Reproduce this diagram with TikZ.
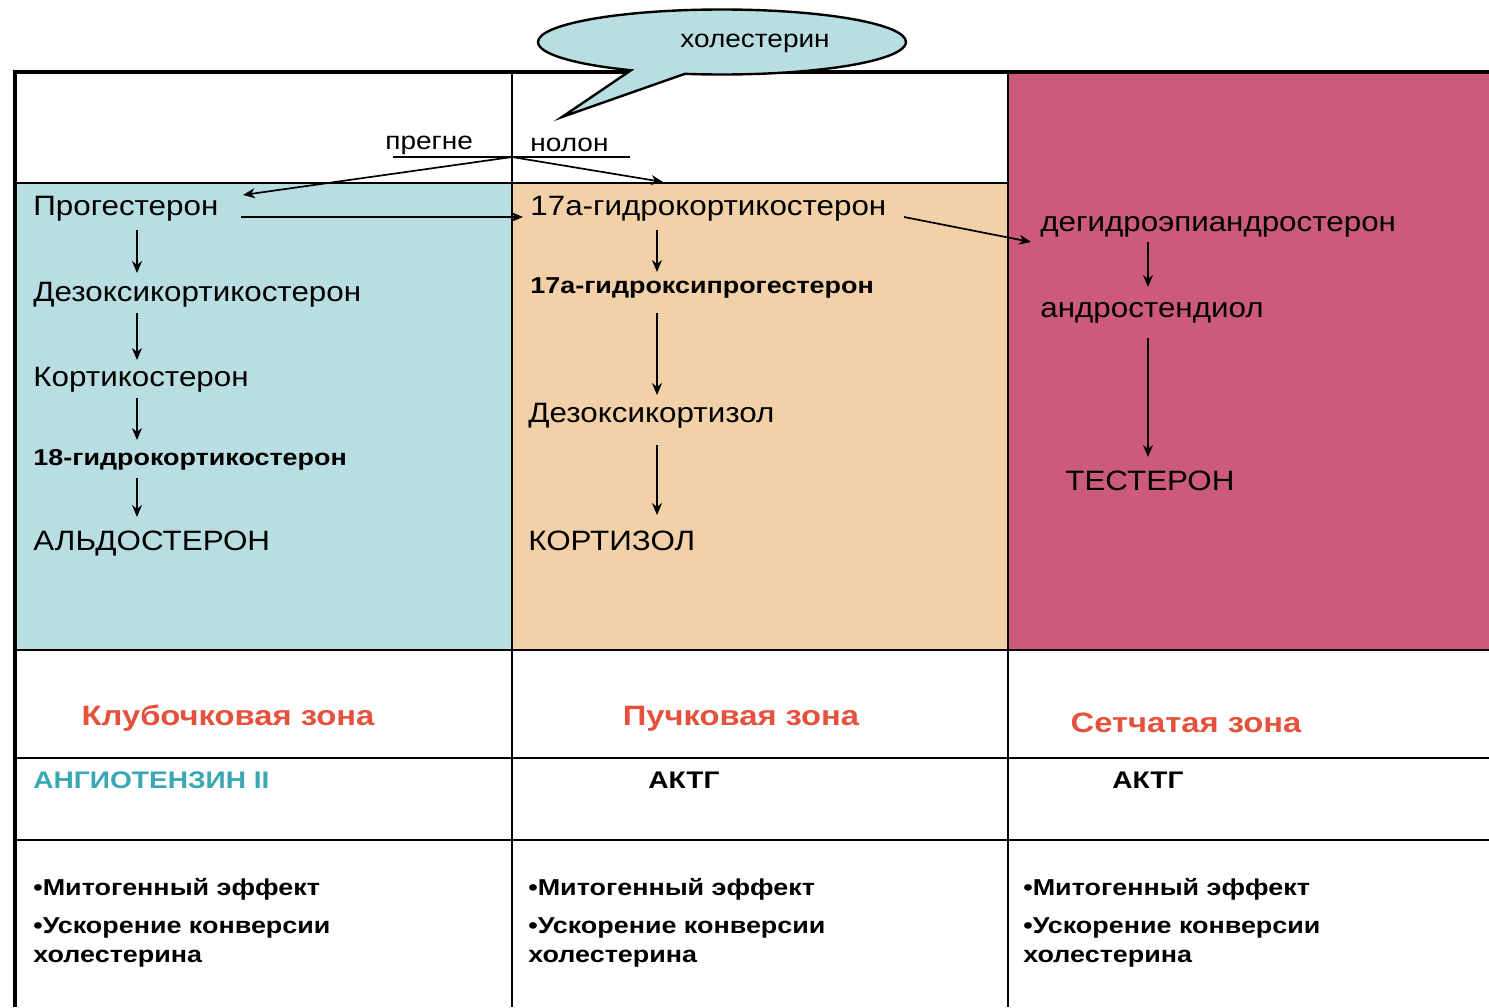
\documentclass[tikz,border=0pt]{standalone}
\usepackage{fontspec}
\setmainfont{Liberation Sans}[FakeStretch=1.12]
\newfontfamily\boldwide{Liberation Sans Bold}[FakeStretch=1.17]
\usetikzlibrary{arrows.meta,shapes.callouts,calc}

\definecolor{glomblue}{RGB}{185,222,226}
\definecolor{fascpeach}{RGB}{242,209,169}
\definecolor{retpink}{RGB}{204,91,123}
\definecolor{zonered}{RGB}{228,82,62}
\definecolor{angteal}{RGB}{58,168,178}

\begin{document}
\begin{tikzpicture}[x=0.5pt,y=-0.5pt,
  met/.style={anchor=base west, inner sep=2pt, font=\fontsize{14}{17}\selectfont},
  metb/.style={anchor=base west, inner sep=2pt, font=\fontsize{11.5}{14}\boldwide},
  lbl/.style={anchor=base west, inner sep=2pt, font=\fontsize{12.5}{14}\selectfont},
  zone/.style={anchor=base, inner sep=2pt, text=zonered, font=\fontsize{14}{17}\boldwide},
  reg/.style={inner sep=2pt, font=\fontsize{12}{14}\boldwide},
  bul/.style={anchor=base west, inner sep=2pt, font=\fontsize{11.5}{14}\boldwide},
  arr/.style={-{Stealth[length=6pt,width=5pt]}, line width=0.85pt},
  grid/.style={line width=1.2pt},
  frame/.style={line width=2.3pt},
]
\useasboundingbox (0,0) rectangle (1489,1007);
\fill[white] (0,0) rectangle (1489,1007);

% zone backgrounds
\fill[glomblue]  (15,183)  rectangle (512,650);
\fill[fascpeach] (512,183) rectangle (1008,650);
\fill[retpink]   (1008,72) rectangle (1489,650);

% table rules
\draw[grid] (15,183) -- (1008,183);
\draw[grid] (15,650) -- (1489,650);
\draw[grid] (15,758) -- (1489,758);
\draw[grid] (15,840) -- (1489,840);
\draw[grid] (512,72) -- (512,1007);
\draw[grid] (1008,72) -- (1008,1007);
\draw[frame] (1489,72) -- (15,72) -- (15,1007);

% cholesterol callout
\node[ellipse callout, draw, fill=glomblue, line width=1.2pt,
      minimum width=184pt, minimum height=32.5pt, inner sep=0pt,
      callout pointer arc=18, callout absolute pointer={(562,117)}] (cloud) at (722,42) {};
\node[lbl] (chol) at (676,47) {холестерин};

% pregnenolone, split across the first two columns
\node[lbl] (pregne) at (381,149) {прегне};
\node[lbl] (nolon)  at (526,151) {нолон};
\coordinate (split) at (512,157);
\coordinate (ulL) at (393,157);
\coordinate (ulR) at (630,157);
\draw[line width=0.9pt] (ulL) -- (ulR);

% glomerular zone pathway
\node[met]  (prog) at (29,215) {Прогестерон};
\node[met]  (dezo) at (29,301) {Дезоксикортикостерон};
\node[met]  (kort) at (29,386) {Кортикостерон};
\node[metb] (h18)  at (29,465) {18-гидрокортикостерон};
\node[met]  (aldo) at (29,550) {АЛЬДОСТЕРОН};

% fascicular zone pathway
\node[met]  (h17)  at (526,215) {17а-гидрокортикостерон};
\node[metb] (hpro) at (526,293) {17а-гидроксипрогестерон};
\node[met]  (dezc) at (524,422) {Дезоксикортизол};
\node[met]  (cort) at (524,550) {КОРТИЗОЛ};

% reticular zone pathway
\node[met]  (dhea) at (1036,231) {дегидроэпиандростерон};
\node[met]  (andr) at (1036,317) {андростендиол};
\node[met]  (test) at (1061,490) {ТЕСТЕРОН};

% arrow columns
\coordinate (c1) at (137,0);
\coordinate (c2) at (657,0);
\coordinate (c3) at (1148,0);

\draw[arr] ($(prog.base -| c1)+(0,15)$) -- ($(dezo.base -| c1)+(0,-28)$);
\draw[arr] ($(dezo.base -| c1)+(0,12)$) -- ($(kort.base -| c1)+(0,-26)$);
\draw[arr] ($(kort.base -| c1)+(0,12)$) -- ($(h18.base -| c1)+(0,-25)$);
\draw[arr] ($(h18.base -| c1)+(0,13)$)  -- ($(aldo.base -| c1)+(0,-33)$);

\draw[arr] ($(h17.base -| c2)+(0,15)$)  -- ($(hpro.base -| c2)+(0,-21)$);
\draw[arr] ($(hpro.base -| c2)+(0,20)$) -- ($(dezc.base -| c2)+(0,-27)$);
\draw[arr] ($(dezc.base -| c2)+(0,23)$) -- ($(cort.base -| c2)+(0,-35)$);

\draw[arr] ($(dhea.base -| c3)+(0,11)$) -- ($(andr.base -| c3)+(0,-30)$);
\draw[arr] ($(andr.base -| c3)+(0,21)$) -- ($(test.base -| c3)+(0,-33)$);

% branch points
\coordinate (progtip) at (243,195);
\coordinate (h17tip) at (663,182);
\draw[arr] (split) -- (progtip);
\draw[arr] (split) -- (h17tip);
\coordinate (progout) at (241,217);
\coordinate (h17in) at (523,217);
\coordinate (h17out) at (904,217);
\coordinate (dheain) at (1031,242);
\draw[arr] (progout) -- (h17in);
\draw[arr] (h17out) -- (dheain);

% zone names
\node[zone] (zg) at (228,725) {Клубочковая зона};
\node[zone] (zf) at (741,725) {Пучковая зона};
\node[zone] (zr) at (1186,732) {Сетчатая зона};

% regulators
\node[reg, anchor=base west, text=angteal] (ang) at (29,788) {АНГИОТЕНЗИН II};
\node[reg, anchor=base] (acth1) at (684,788) {АКТГ};
\node[reg, anchor=base] (acth2) at (1148,788) {АКТГ};

% effects
\node[bul] (e1a) at (29,895)   {•Митогенный эффект};
\node[bul] (e1b) at (29,933)   {•Ускорение конверсии};
\node[bul] (e1c) at (29,962)   {холестерина};
\node[bul] (e2a) at (524,895)  {•Митогенный эффект};
\node[bul] (e2b) at (524,933)  {•Ускорение конверсии};
\node[bul] (e2c) at (524,962)  {холестерина};
\node[bul] (e3a) at (1019,895) {•Митогенный эффект};
\node[bul] (e3b) at (1019,933) {•Ускорение конверсии};
\node[bul] (e3c) at (1019,962) {холестерина};
\end{tikzpicture}
\end{document}
